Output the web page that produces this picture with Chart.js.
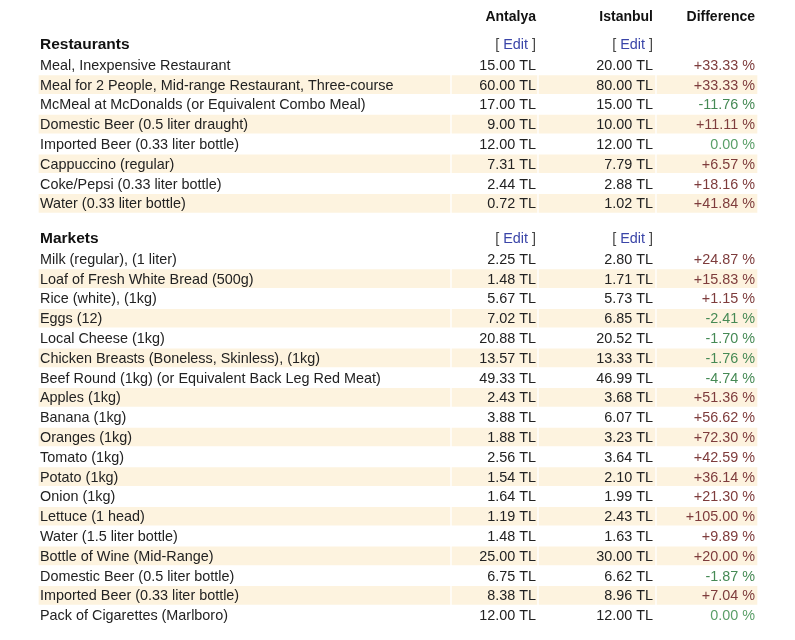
<!DOCTYPE html>
<html lang="en">
<head>
    <meta charset="UTF-8" />
    <title>Antalya vs Istanbul</title>
    <script src="https://cdn.jsdelivr.net/npm/chart.js"></script>
    <style>
        body { margin: 0; background: #fff; }
        canvas { display: block; }
    </style>
</head>
<body>
    <canvas id="table" width="795" height="640"></canvas>

    <script>
        const cities = ['Antalya', 'Istanbul'];

        const restaurantItems = [
            'Meal, Inexpensive Restaurant',
            'Meal for 2 People, Mid-range Restaurant, Three-course',
            'McMeal at McDonalds (or Equivalent Combo Meal)',
            'Domestic Beer (0.5 liter draught)',
            'Imported Beer (0.33 liter bottle)',
            'Cappuccino (regular)',
            'Coke/Pepsi (0.33 liter bottle)',
            'Water (0.33 liter bottle)'
        ];
        const restaurantAntalya = [15.00, 60.00, 17.00, 9.00, 12.00, 7.31, 2.44, 0.72];
        const restaurantIstanbul = [20.00, 80.00, 15.00, 10.00, 12.00, 7.79, 2.88, 1.02];
        const restaurantDiff = [33.33, 33.33, -11.76, 11.11, 0.00, 6.57, 18.16, 41.84];

        const marketItems = [
            'Milk (regular), (1 liter)',
            'Loaf of Fresh White Bread (500g)',
            'Rice (white), (1kg)',
            'Eggs (12)',
            'Local Cheese (1kg)',
            'Chicken Breasts (Boneless, Skinless), (1kg)',
            'Beef Round (1kg) (or Equivalent Back Leg Red Meat)',
            'Apples (1kg)',
            'Banana (1kg)',
            'Oranges (1kg)',
            'Tomato (1kg)',
            'Potato (1kg)',
            'Onion (1kg)',
            'Lettuce (1 head)',
            'Water (1.5 liter bottle)',
            'Bottle of Wine (Mid-Range)',
            'Domestic Beer (0.5 liter bottle)',
            'Imported Beer (0.33 liter bottle)',
            'Pack of Cigarettes (Marlboro)'
        ];
        const marketAntalya = [2.25, 1.48, 5.67, 7.02, 20.88, 13.57, 49.33, 2.43, 3.88, 1.88, 2.56, 1.54, 1.64, 1.19, 1.48, 25.00, 6.75, 8.38, 12.00];
        const marketIstanbul = [2.80, 1.71, 5.73, 6.85, 20.52, 13.33, 46.99, 3.68, 6.07, 3.23, 3.64, 2.10, 1.99, 2.43, 1.63, 30.00, 6.62, 8.96, 12.00];
        const marketDiff = [24.87, 15.83, 1.15, -2.41, -1.70, -1.76, -4.74, 51.36, 56.62, 72.30, 42.59, 36.14, 21.30, 105.00, 9.89, 20.00, -1.87, 7.04, 0.00];

        // layout (row units on the y scale, pixels on the x scale)
        const ROW_PX = 19.8, TOP_PX = 44, H = 640, W = 795;
        const headerRow = -1.41;
        const sections = [
            { title: 'Restaurants', start: 0, items: restaurantItems, a: restaurantAntalya, b: restaurantIstanbul, d: restaurantDiff },
            { title: 'Markets', start: 9.8, items: marketItems, a: marketAntalya, b: marketIstanbul, d: marketDiff }
        ];
        const itemRow = (s, i) => s.start + i + 1.05;
        // column cells: [left, right]; text is right aligned except the first
        const cols = [[39, 450], [452, 537], [539, 655], [657, 757]];
        const textRight = [null, 536, 653, 755];
        const bandColor = '#fdf3df';
        const font = "Arial, 'Liberation Sans', sans-serif";
        const SIZE = 14.4;

        const bandSets = cols.map(c => {
            const data = [];
            sections.forEach(s => s.items.forEach((_, i) => {
                if (i % 2 === 1) data.push({ x: c, y: itemRow(s, i) });
            }));
            return { data, backgroundColor: bandColor, borderWidth: 0, barThickness: 18, grouped: false };
        });

        const fmt = v => v.toFixed(2) + ' TL';
        const fmtDiff = v => (v > 0 ? '+' : '') + v.toFixed(2) + ' %';
        const diffColor = v => v > 0 ? '#7e3c3c' : (v < 0 ? '#468a55' : '#5a9f68');

        const cellText = {
            id: 'cellText',
            afterDatasetsDraw(chart) {
                const { ctx, scales: { x, y } } = chart;
                ctx.save();
                ctx.textBaseline = 'middle';

                const put = (txt, px, v, color, weight, size, align) => {
                    ctx.font = `${weight} ${size}px ${font}`;
                    ctx.fillStyle = color;
                    ctx.textAlign = align;
                    ctx.fillText(txt, px, y.getPixelForValue(v) + 1);
                };

                // column headers
                cities.concat(['Difference']).forEach((c, k) => {
                    put(c, x.getPixelForValue(textRight[k + 1]), headerRow, '#111', 'bold', 14, 'right');
                });

                sections.forEach(s => {
                    put(s.title, x.getPixelForValue(40), s.start, '#111', 'bold', 15.5, 'left');
                    // [ Edit ] links
                    [1, 2].forEach(k => {
                        ctx.font = `normal ${SIZE}px ${font}`;
                        const r = x.getPixelForValue(textRight[k]);
                        const wClose = ctx.measureText(' ]').width;
                        const wEdit = ctx.measureText('Edit').width;
                        put(' ]', r, s.start, '#444', 'normal', SIZE, 'right');
                        put('Edit', r - wClose, s.start, '#3a45a8', 'normal', SIZE, 'right');
                        put('[ ', r - wClose - wEdit, s.start, '#444', 'normal', SIZE, 'right');
                    });
                    s.items.forEach((name, i) => {
                        const v = itemRow(s, i);
                        put(name, x.getPixelForValue(40), v, '#222', 'normal', SIZE, 'left');
                        put(fmt(s.a[i]), x.getPixelForValue(textRight[1]), v, '#222', 'normal', SIZE, 'right');
                        put(fmt(s.b[i]), x.getPixelForValue(textRight[2]), v, '#222', 'normal', SIZE, 'right');
                        put(fmtDiff(s.d[i]), x.getPixelForValue(textRight[3]), v, diffColor(s.d[i]), 'normal', SIZE, 'right');
                    });
                });
                ctx.restore();
            }
        };

        new Chart(document.getElementById('table'), {
            type: 'bar',
            data: { datasets: bandSets },
            options: {
                indexAxis: 'y',
                responsive: false,
                animation: false,
                events: [],
                layout: { padding: 0 },
                plugins: { legend: { display: false }, tooltip: { enabled: false } },
                scales: {
                    x: { type: 'linear', min: 0, max: W, display: false, offset: false },
                    y: { type: 'linear', reverse: true, offset: false, min: -TOP_PX / ROW_PX, max: (H - TOP_PX) / ROW_PX, display: false }
                }
            },
            plugins: [cellText]
        });
    </script>
</body>
</html>
